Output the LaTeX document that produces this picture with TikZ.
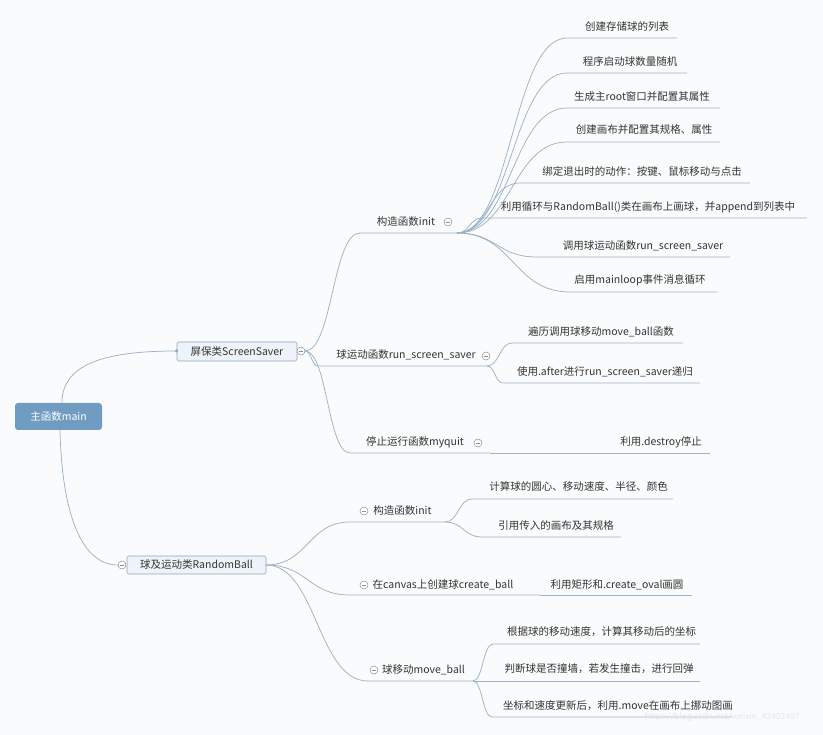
\documentclass[tikz,border=0pt]{standalone}
\usepackage{fontspec}
\setmainfont{Noto Sans CJK SC}
\usetikzlibrary{calc}
\definecolor{lnc}{HTML}{9DB3C8}
\definecolor{txt}{HTML}{333333}
\definecolor{bgc}{HTML}{FAFBFC}
\definecolor{mainc}{HTML}{6F9CC0}
\definecolor{subc}{HTML}{EDF3F8}
\definecolor{subd}{HTML}{8DA8C1}
\definecolor{colc}{HTML}{8A8F96}
\definecolor{wmk}{HTML}{E3E6E9}
\begin{document}
\begin{tikzpicture}[x=1pt,y=-1pt,
  conn/.style={draw=lnc, line width=0.75pt},
  branch/.style={to path={.. controls ($(\tikztostart)!0.5!(\tikztotarget|-\tikztostart)$) and ($(\tikztotarget)!0.5!(\tikztostart|-\tikztotarget)$) .. (\tikztotarget)}},
  lbl/.style={inner sep=0pt, anchor=center, font=\fontsize{10.5}{12}\selectfont, text=txt},
  mainbox/.style={rounded corners=3pt, fill=mainc, text=white, minimum width=87pt, minimum height=27pt, inner sep=0pt, font=\fontsize{10.5}{12}\selectfont},
  subbox/.style={rounded corners=1.5pt, fill=subc, draw=subd, line width=0.6pt, inner sep=0pt, text=txt, font=\fontsize{10.5}{12}\selectfont},
  clps/.style={circle, draw=colc, line width=0.5pt, fill=white, inner sep=0pt, minimum size=8pt,
    path picture={\draw[colc, line width=0.5pt] ([xshift=-2.3pt]path picture bounding box.center) -- ([xshift=2.3pt]path picture bounding box.center);}},
  sdot/.style={circle, fill=subd, inner sep=0pt, minimum size=3.5pt}
]
\fill[bgc] (0,0) rectangle (823,735);
\useasboundingbox (0,0) rectangle (823,735);

% ---------- root and first level ----------
\node[mainbox] (main) at (58.5,416.5) {主函数main};
\coordinate (mtop) at (62,403);
\coordinate (mbot) at (60,430);

\node[subbox, minimum width=120pt, minimum height=19pt] (ss) at (237,351.5) {屏保类ScreenSaver};
\node[sdot] (ssdot) at (176.5,351) {};
\node[clps] (ssc) at (301,351) {};
\coordinate (ssE) at (305,351);

\node[subbox, minimum width=139pt, minimum height=18pt] (rb) at (196.5,565) {球及运动类RandomBall};
\node[clps] (rbc) at (122,565) {};
\coordinate (rbE) at (266,565);

\draw[conn] (mtop) .. controls (62,366) and (100,351) .. (ssdot.center);
\draw[conn] (mbot) .. controls (62,515) and (82,565) .. (rbc.west);

% ---------- ScreenSaver children ----------
\node[lbl] (i0t) at (406,222) {构造函数init};
\node[clps] (i0c) at (448,222) {};
\coordinate (i0s) at (360,233);
\coordinate (i0e) at (457,233);

\node[lbl] (r0t) at (406,355) {球运动函数run\_screen\_saver};
\node[clps] (r0c) at (486,356) {};
\coordinate (r0s) at (318,366);
\coordinate (r0e) at (487,366);

\node[lbl] (q0t) at (415,442) {停止运行函数myquit};
\node[clps] (q0c) at (478,443) {};
\coordinate (q0s) at (350,453);
\coordinate (q0e) at (490,453);
\node[lbl] (qdt) at (661,442) {利用.destroy停止};
\coordinate (qde) at (710,453);

\draw[conn] (ssE) to[branch] (i0s) -- (i0e);
\draw[conn] (ssE) to[branch] (r0s) -- (r0e);
\draw[conn] (ssE) to[branch] (q0s) -- (q0e);
\draw[conn] (q0e) -- (qde);

% init children
\node[lbl] (a1t) at (627,27) {创建存储球的列表};
\coordinate (a1s) at (567,38);  \coordinate (a1e) at (677,38);
\node[lbl] (a2t) at (630,62) {程序启动球数量随机};
\coordinate (a2s) at (567,73);  \coordinate (a2e) at (687,73);
\node[lbl] (a3t) at (642,97) {生成主root窗口并配置其属性};
\coordinate (a3s) at (567,108); \coordinate (a3e) at (720,108);
\node[lbl] (a4t) at (644,130) {创建画布并配置其规格、属性};
\coordinate (a4s) at (567,142); \coordinate (a4e) at (720,142);
\node[lbl] (a5t) at (642,172) {绑定退出时的动作：按键、鼠标移动与点击};
\coordinate (a5s) at (520,183); \coordinate (a5e) at (750,183);
\node[lbl] (a6t) at (648,207) {利用循环与RandomBall()类在画布上画球，并append到列表中};
\coordinate (a6s) at (482,218); \coordinate (a6e) at (807,218);
\node[lbl] (a7t) at (643,246) {调用球运动函数run\_screen\_saver};
\coordinate (a7s) at (537,257); \coordinate (a7e) at (730,257);
\node[lbl] (a8t) at (640,280) {启用mainloop事件消息循环};
\coordinate (a8s) at (570,292); \coordinate (a8e) at (717,292);

\foreach \k in {1,...,8} {
  \draw[conn] (i0e) to[branch] (a\k s) -- (a\k e);
}

% run_screen_saver children
\node[lbl] (b1t) at (601,332) {遍历调用球移动move\_ball函数};
\coordinate (b1s) at (512,343); \coordinate (b1e) at (683,343);
\node[lbl] (b2t) at (605,372) {使用.after进行run\_screen\_saver递归};
\coordinate (b2s) at (503,383); \coordinate (b2e) at (700,383);
\draw[conn] (r0e) to[branch] (b1s) -- (b1e);
\draw[conn] (r0e) to[branch] (b2s) -- (b2e);

% ---------- RandomBall children ----------
\node[lbl] (p1t) at (402.5,511) {构造函数init};
\node[clps] (p1c) at (364,511) {};
\coordinate (p1s) at (350,522); \coordinate (p1e) at (445,522);

\node[lbl] (p2t) at (443,585) {在canvas上创建球create\_ball};
\node[clps] (p2c) at (364,585) {};
\coordinate (p2s) at (350,595); \coordinate (p2e) at (540,595);
\node[lbl] (p2dt) at (617,585) {利用矩形和.create\_oval画圆};
\coordinate (p2de) at (692,595);

\node[lbl] (p3t) at (423.5,670) {球移动move\_ball};
\node[clps] (p3c) at (374,670) {};
\coordinate (p3s) at (368,681); \coordinate (p3e) at (473,681);

\draw[conn] (rbE) to[branch] (p1s) -- (p1e);
\draw[conn] (rbE) to[branch] (p2s) -- (p2e);
\draw[conn] (p2e) -- (p2de);
\draw[conn] (rbE) to[branch] (p3s) -- (p3e);

% init (RandomBall) children
\node[lbl] (j1t) at (578.5,487) {计算球的圆心、移动速度、半径、颜色};
\coordinate (j1s) at (472,499); \coordinate (j1e) at (673,499);
\node[lbl] (j2t) at (556,526) {引用传入的画布及其规格};
\coordinate (j2s) at (482,537); \coordinate (j2e) at (621,537);
\draw[conn] (p1e) to[branch] (j1s) -- (j1e);
\draw[conn] (p1e) to[branch] (j2s) -- (j2e);

% move_ball children
\node[lbl] (m1t) at (601.5,632) {根据球的移动速度，计算其移动后的坐标};
\coordinate (m1s) at (493,644); \coordinate (m1e) at (700,644);
\node[lbl] (m2t) at (599,669) {判断球是否撞墙，若发生撞击，进行回弹};
\coordinate (m2e) at (700,681);
\node[lbl] (m3t) at (618,706) {坐标和速度更新后，利用.move在画布上挪动图画};
\coordinate (m3s) at (492,717); \coordinate (m3e) at (732,717);
\draw[conn] (p3e) to[branch] (m1s) -- (m1e);
\draw[conn] (p3e) -- (m2e);
\draw[conn] (p3e) to[branch] (m3s) -- (m3e);

% watermark
\node[inner sep=0pt, text=wmk, font=\fontsize{8.5}{10}\selectfont] (wm) at (722,717) {https://blog.csdn.net/weixin\_42402407};
\end{tikzpicture}
\end{document}
